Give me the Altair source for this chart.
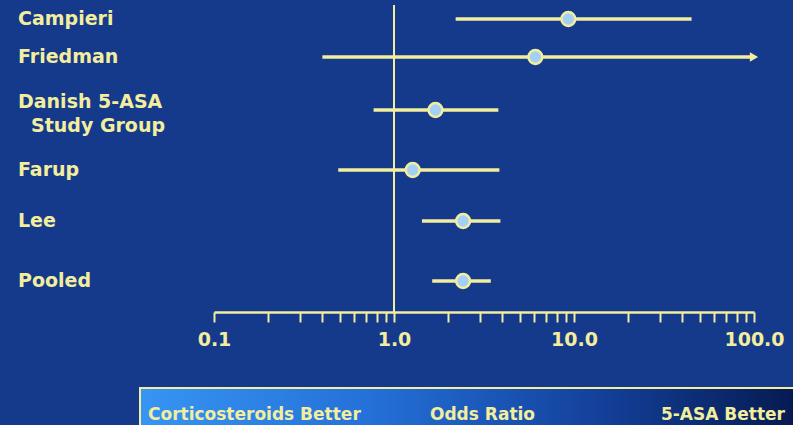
import altair as alt
import pandas as pd

# Forest plot: odds ratios with 95% confidence intervals
studies = ["Campieri", "Friedman", "Danish 5-ASA Study Group", "Farup", "Lee", "Pooled"]
odds_ratio = [9.3, 6.1, 1.7, 1.27, 2.42, 2.42]
ci_low = [2.2, 0.40, 0.77, 0.49, 1.43, 1.63]
ci_high = [45.0, 100.0, 3.8, 3.85, 3.9, 3.45]
ci_open_ended = [False, True, False, False, False, False]

# Row labels (the long study name is split over two lines)
label_lines = ["Campieri", "Friedman", "Danish 5-ASA", "Study Group", "Farup", "Lee", "Pooled"]

# Layout: vertical pixel position of each row and of each label line
row_y = [19, 57, 110, 170, 221, 281]
label_y = [19, 57, 102, 126, 170, 221, 281]
label_x = [18, 18, 18, 31, 18, 18, 18]

# Tick values on the log axis (decades labelled)
tick_values = [0.1, 0.2, 0.3, 0.4, 0.5, 0.6, 0.7, 0.8, 0.9,
               1, 2, 3, 4, 5, 6, 7, 8, 9,
               10, 20, 30, 40, 50, 60, 70, 80, 90, 100]

W, H = 793, 425
AXIS_Y = 312
BG = "#15398b"
YELLOW = "#f2ee9e"
DOT = "#a3d0f7"
FONT = "DejaVu Sans"

df = pd.DataFrame({
    "study": studies,
    "or": odds_ratio,
    "lo": ci_low,
    "hi": ci_high,
    "open": ci_open_ended,
    "ypos": row_y,
})
labels = pd.DataFrame({"text": label_lines, "ypos": label_y, "xpos": label_x})

xscale = alt.Scale(type="log", domain=[0.1, 100], range=[214, 754])
yscale = alt.Scale(domain=[0, H], range=[0, H])
yenc = alt.Y("ypos:Q", scale=yscale, axis=None)

base = alt.Chart(df)

# Axis carried by an invisible layer
axis_layer = base.mark_point(opacity=0).encode(
    x=alt.X(
        "or:Q",
        scale=xscale,
        axis=alt.Axis(
            values=tick_values,
            labelExpr="abs(log(datum.value)/LN10 - round(log(datum.value)/LN10)) < 1e-6 ? format(datum.value, '.1f') : ''",
            offset=AXIS_Y - H,
            domainColor=YELLOW,
            domainWidth=2.5,
            tickColor=YELLOW,
            tickWidth=2,
            tickSize=10,
            labelColor=YELLOW,
            labelFont=FONT,
            labelFontSize=19,
            labelFontWeight="bold",
            labelPadding=8,
            labelFlush=False,
            grid=False,
            title=None,
            labelOverlap=False,
        ),
    ),
    y=yenc,
)

# Line of no effect at OR = 1
null_line = alt.Chart(pd.DataFrame({"v": [1.0]})).mark_rule(
    color=YELLOW, strokeWidth=2
).encode(
    x=alt.X("v:Q", scale=xscale, axis=None),
    y=alt.value(5),
    y2=alt.value(AXIS_Y),
)

ci_lines = base.mark_rule(color=YELLOW, strokeWidth=3.5).encode(
    x=alt.X("lo:Q", scale=xscale, axis=None),
    x2="hi:Q",
    y=yenc,
)

arrows = base.transform_filter("datum.open").mark_point(
    shape="triangle-right", filled=True, color=YELLOW, size=90, opacity=1
).encode(
    x=alt.X("hi:Q", scale=xscale, axis=None),
    y=yenc,
)

points = base.mark_point(
    shape="circle", filled=True, fill=DOT, stroke=YELLOW, strokeWidth=2.5,
    size=190, opacity=1
).encode(
    x=alt.X("or:Q", scale=xscale, axis=None),
    y=yenc,
)

row_labels = alt.Chart(labels).mark_text(
    align="left", baseline="middle", font=FONT, fontSize=19,
    fontWeight="bold", color=YELLOW
).encode(
    x=alt.X("xpos:Q", scale=alt.Scale(domain=[0, W], range=[0, W]), axis=None),
    y=alt.Y("ypos:Q", scale=yscale, axis=None),
    text="text:N",
)

# Caption band along the bottom
band = alt.Chart(pd.DataFrame({"k": [0]})).mark_rect(
    fill=alt.Gradient(
        gradient="linear",
        stops=[
            alt.GradientStop(color="#3795f3", offset=0),
            alt.GradientStop(color="#2470d8", offset=0.35),
            alt.GradientStop(color="#13409a", offset=0.7),
            alt.GradientStop(color="#061a50", offset=1),
        ],
        x1=0, x2=1, y1=0, y2=0,
    ),
    stroke=YELLOW,
    strokeWidth=2,
).encode(
    x=alt.value(140), x2=alt.value(W + 4),
    y=alt.value(388), y2=alt.value(H + 4),
)

caption_style = dict(baseline="alphabetic", font=FONT, fontSize=17,
                     fontWeight="bold", color=YELLOW)
cap_left = alt.Chart(pd.DataFrame({"t": ["Corticosteroids Better"]})).mark_text(
    align="left", **caption_style
).encode(x=alt.value(148), y=alt.value(420), text="t:N")
cap_mid = alt.Chart(pd.DataFrame({"t": ["Odds Ratio"]})).mark_text(
    align="left", **caption_style
).encode(x=alt.value(430), y=alt.value(420), text="t:N")
cap_right = alt.Chart(pd.DataFrame({"t": ["5-ASA Better"]})).mark_text(
    align="right", **caption_style
).encode(x=alt.value(785), y=alt.value(420), text="t:N")

chart = alt.layer(
    axis_layer, null_line, ci_lines, arrows, points, row_labels,
    band, cap_left, cap_mid, cap_right
).resolve_scale(x="independent").properties(
    width=W, height=H, padding=0, autosize=alt.AutoSizeParams(type="none"),
    background=BG,
).configure_view(stroke=None)

chart.save("out.html", embed_options={"renderer": "svg", "actions": False})
